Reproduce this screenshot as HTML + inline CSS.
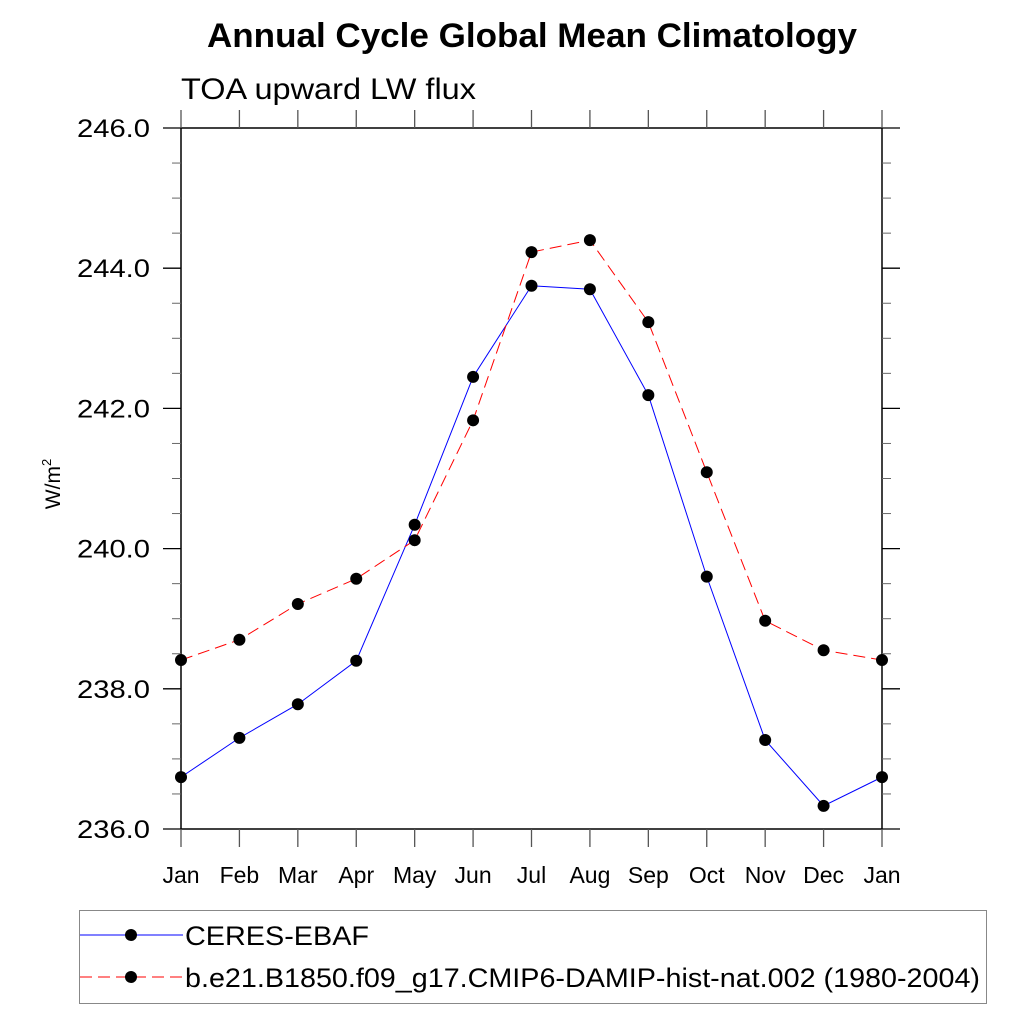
<!DOCTYPE html>
<html><head><meta charset="utf-8"><style>
body{margin:0;background:#fff;}
svg{display:block;font-family:"Liberation Sans",sans-serif;}
</style></head><body>
<svg id="chart" width="1024" height="1024" viewBox="0 0 1024 1024">
<text x="532" y="47" text-anchor="middle" font-size="34" font-weight="bold" textLength="650" lengthAdjust="spacingAndGlyphs">Annual Cycle Global Mean Climatology</text>
<text x="181" y="99" font-size="30" textLength="295" lengthAdjust="spacingAndGlyphs">TOA upward LW flux</text>
<text transform="translate(60,484) rotate(-90)" text-anchor="middle" font-size="21">W/m<tspan font-size="13" dy="-9">2</tspan></text>
<g id="axes"></g>
<g id="series"></g>
<g>
<rect x="79.5" y="910.5" width="907" height="93" fill="none" stroke="#888" stroke-width="1"/>
<g>
<line x1="80" y1="935" x2="183" y2="935" stroke="#0000ff" stroke-width="1"/>
<circle cx="131" cy="935" r="6" fill="#000"/>
<text x="185" y="945" font-size="27" textLength="184" lengthAdjust="spacingAndGlyphs">CERES-EBAF</text>
</g>
<g>
<line x1="80" y1="977" x2="183" y2="977" stroke="#ff0000" stroke-width="1" stroke-dasharray="12,6"/>
<circle cx="131" cy="977" r="6" fill="#000"/>
<text x="185" y="987" font-size="27" textLength="795" lengthAdjust="spacingAndGlyphs">b.e21.B1850.f09_g17.CMIP6-DAMIP-hist-nat.002 (1980-2004)</text>
</g>
</g>
</svg>
<script>
const months = ["Jan","Feb","Mar","Apr","May","Jun","Jul","Aug","Sep","Oct","Nov","Dec","Jan"];
const ceres = [236.74,237.30,237.78,238.40,240.34,242.45,243.75,243.70,242.19,239.60,237.27,236.33,236.74];
const model = [238.41,238.70,239.21,239.57,240.12,241.83,244.23,244.40,243.23,241.09,238.97,238.55,238.41];
const yTicks = [236,238,240,242,244,246];
const yTickLabels = ["236.0","238.0","240.0","242.0","244.0","246.0"];
const yMin=236,yMax=246;
const L=181,R=882,T=128,B=829;
const NS="http://www.w3.org/2000/svg";
const xs=i=>L+(R-L)*i/(months.length-1);
const ys=v=>B-(v-yMin)/(yMax-yMin)*(B-T);
const axes=document.getElementById('axes');
function mk(tag,a,p){const e=document.createElementNS(NS,tag);for(const k in a)e.setAttribute(k,a[k]);(p||axes).appendChild(e);return e;}
mk('rect',{x:L,y:T,width:R-L,height:B-T,fill:'none',stroke:'#000','stroke-width':1.5});
for(let v=yMin;v<=yMax+1e-9;v+=0.5){
  const y=ys(v);const major=Math.abs(v-Math.round(v/2)*2)<1e-9;
  const len=major?18:9;
  mk('line',{x1:L-len,y1:y,x2:L,y2:y,stroke:major?'#000':'#666','stroke-width':major?1.3:1});
  mk('line',{x1:R,y1:y,x2:R+len,y2:y,stroke:major?'#000':'#666','stroke-width':major?1.3:1});
}
yTicks.forEach((v,i)=>{
  const t=mk('text',{x:150,y:ys(v)+9,'text-anchor':'end','font-size':25,textLength:73,lengthAdjust:'spacingAndGlyphs'});
  t.textContent=yTickLabels[i];
  
  
});
months.forEach((m,i)=>{
  const x=xs(i);
  mk('line',{x1:x,y1:T-18,x2:x,y2:T,stroke:'#555','stroke-width':1.3});
  mk('line',{x1:x,y1:B,x2:x,y2:B+18,stroke:'#555','stroke-width':1.3});
  const t=mk('text',{x:x,y:883,'text-anchor':'middle','font-size':23});
  t.textContent=m;
  
  
});
const sg=document.getElementById('series');
function drawSeries(vals,color,dash,name){
  const pl=mk('polyline',{points:vals.map((v,i)=>xs(i)+','+ys(v)).join(' '),fill:'none',stroke:color,'stroke-width':1,'stroke-dasharray':dash},sg);
  
  
  vals.forEach((v,i)=>{
    const c=mk('circle',{cx:xs(i),cy:ys(v),r:6,fill:'#000'},sg);
    
    
  });
}
drawSeries(ceres,'#0000ff','none','ceres');
drawSeries(model,'#ff0000','12,6','model');
</script>
</body></html>
